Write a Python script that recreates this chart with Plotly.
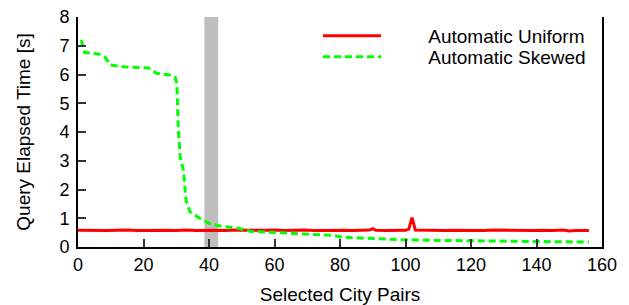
import plotly.graph_objects as go

# ---- data ----
uniform_x = [0, 3, 6, 9, 12, 15, 18, 21, 24, 27, 30, 33, 36, 39, 42, 45, 48, 51, 54, 57,
             60, 63, 66, 69, 72, 75, 78, 81, 84, 87, 89, 90, 91, 94, 97, 100, 101, 102,
             103, 106, 109, 112, 115, 118, 121, 124, 127, 130, 133, 136, 139, 142, 145,
             148, 150, 152, 156]
uniform_y = [0.58, 0.57, 0.58, 0.57, 0.58, 0.59, 0.57, 0.58, 0.57, 0.58, 0.57, 0.59, 0.57,
             0.58, 0.58, 0.57, 0.59, 0.58, 0.57, 0.58, 0.59, 0.57, 0.58, 0.59, 0.57, 0.58,
             0.57, 0.58, 0.57, 0.58, 0.59, 0.64, 0.58, 0.57, 0.58, 0.58, 0.62, 1.02,
             0.59, 0.58, 0.59, 0.57, 0.58, 0.57, 0.58, 0.57, 0.59, 0.58, 0.57, 0.58,
             0.57, 0.58, 0.57, 0.59, 0.56, 0.57, 0.57]

skewed_x = [1, 2, 6.7, 8.3, 9.8, 14, 21.5, 24, 28, 29.7, 30.2, 30.6, 31.2, 32.2, 33,
            34.2, 37.3, 40.3, 43.4, 48.5, 52.5, 60, 67.8, 78, 81, 90, 97, 110, 125,
            140, 156]
skewed_y = [7.2, 6.77, 6.7, 6.6, 6.33, 6.27, 6.23, 6.04, 5.98, 5.9, 5.65, 4.18, 3.1,
            2.67, 1.62, 1.22, 0.99, 0.81, 0.73, 0.66, 0.55, 0.5, 0.46, 0.40, 0.34,
            0.29, 0.26, 0.23, 0.21, 0.19, 0.17]

series_names = ["Automatic Uniform", "Automatic Skewed"]

band_range = [38.6, 42.8]

x_ticks = [0, 20, 40, 60, 80, 100, 120, 140, 160]
y_ticks = [0, 1, 2, 3, 4, 5, 6, 7, 8]

font_family = "Liberation Sans, Arial, sans-serif"
pad = "\u00a0" * 8

fig = go.Figure()
fig.add_vrect(x0=band_range[0], x1=band_range[1], fillcolor="#bebebe",
              line_width=0, layer="below", opacity=1)

fig.add_trace(go.Scatter(x=uniform_x, y=uniform_y, mode="lines",
                         name=pad + series_names[0], legend="legend",
                         line=dict(color="#ff0000", width=3)))
fig.add_trace(go.Scatter(x=skewed_x, y=skewed_y, mode="lines",
                         name=pad + series_names[1], legend="legend2",
                         line=dict(color="#00ff00", width=3, dash="7px,4px")))

axis_common = dict(showgrid=False, zeroline=False, showline=True, linecolor="black",
                   linewidth=2, ticks="inside", ticklen=8, tickwidth=2,
                   tickcolor="#333333", automargin=False, ticklabeloverflow="allow",
                   tickfont=dict(size=18, color="black", family=font_family))

fig.update_xaxes(range=[0, 160], tickvals=x_ticks, mirror=False,
                 title=dict(text="Selected City Pairs", standoff=19,
                            font=dict(size=19, color="black", family=font_family)),
                 **axis_common)
fig.update_yaxes(range=[0, 8], tickvals=y_ticks, mirror=True, ticklabelstandoff=3,
                 title=dict(text="Query Elapsed Time [s]", standoff=24,
                            font=dict(size=19, color="black", family=font_family)),
                 **axis_common)

leg_common = dict(xanchor="left", yanchor="middle", bgcolor="rgba(0,0,0,0)",
                  itemwidth=58, borderwidth=0,
                  font=dict(size=19, color="black", family=font_family))

fig.update_layout(
    width=629, height=305,
    margin=dict(l=78, r=27, t=17, b=58),
    plot_bgcolor="white", paper_bgcolor="white",
    font=dict(family=font_family, color="black"),
    legend=dict(x=0.458, y=0.918, **leg_common),
    legend2=dict(x=0.458, y=0.826, **leg_common),
    showlegend=True,
)

fig.write_html("out.html",
               config={"displayModeBar": False},
               post_script="document.body.style.margin='0';"
                           "document.documentElement.style.overflow='hidden';")
